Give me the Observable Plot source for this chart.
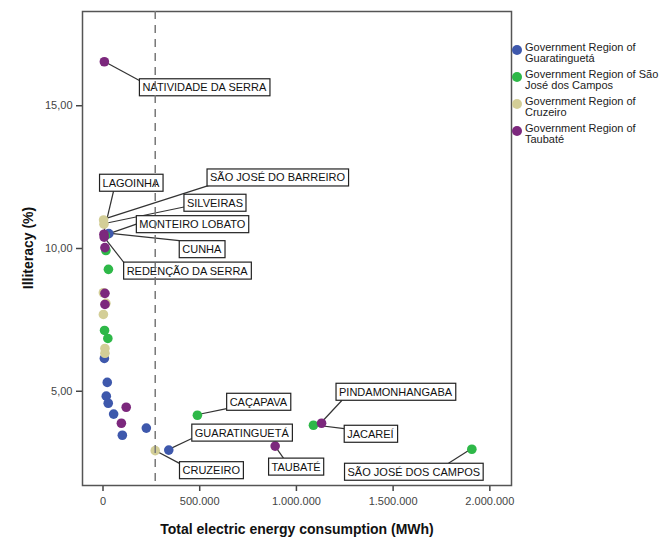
<!DOCTYPE html>
<html>
<head>
<meta charset="utf-8">
<script src="https://cdn.jsdelivr.net/npm/d3@7"></script>
<script src="https://cdn.jsdelivr.net/npm/@observablehq/plot@0.6"></script>
<style>
  body { margin: 0; background: #fff; font-family: "Liberation Sans", Arial, sans-serif; }
  #wrap { position: relative; width: 667px; height: 538px; overflow: hidden; }
  #wrap svg { position: absolute; left: 0; top: 0; }
  .ytitle { position: absolute; left: 28px; top: 248px; transform: translate(-50%, -50%) rotate(-90deg);
            font-weight: bold; font-size: 14px; color: #111; white-space: nowrap; }
  .xtitle { position: absolute; left: 297px; top: 529px; transform: translate(-50%, -50%);
            font-weight: bold; font-size: 14px; color: #111; white-space: nowrap; }
  .legend { position: absolute; left: 511px; top: 42px; font-size: 11px; color: #222; }
  .legend .item { position: relative; padding-left: 14px; line-height: 11px; height: 27px; }
  .legend .sw { position: absolute; left: 1px; top: 3px; width: 10px; height: 10px; border-radius: 50%; }
</style>
</head>
<body>
<div id="wrap"></div>
<script>
// Regions and their colours
const regions = [
  "Government Region of Guaratinguetá",
  "Government Region of São José dos Campos",
  "Government Region of Cruzeiro",
  "Government Region of Taubaté"
];
const regionLegend = [
  ["Government Region of", "Guaratinguetá"],
  ["Government Region of São", "José dos Campos"],
  ["Government Region of", "Cruzeiro"],
  ["Government Region of", "Taubaté"]
];
const regionColors = ["#3e58ac", "#2eb848", "#d3ce97", "#7c287d"];

// Municipalities: name (blank when unlabelled), region index, energy (MWh), illiteracy (%)
const names = [
  "", "", "", "", "", "", "", "CUNHA", "GUARATINGUETÁ",
  "", "", "", "", "MONTEIRO LOBATO", "CAÇAPAVA", "JACAREÍ", "SÃO JOSÉ DOS CAMPOS",
  "SÃO JOSÉ DO BARREIRO", "SILVEIRAS", "", "", "", "", "", "CRUZEIRO",
  "NATIVIDADE DA SERRA", "LAGOINHA", "REDENÇÃO DA SERRA", "", "", "", "", "", "TAUBATÉ", "PINDAMONHANGABA"
];
const regionIndex = [
  0, 0, 0, 0, 0, 0, 0, 0, 0,
  1, 1, 1, 1, 1, 1, 1, 1,
  2, 2, 2, 2, 2, 2, 2, 2,
  3, 3, 3, 3, 3, 3, 3, 3, 3, 3
];
const energy = [
  7000, 22000, 17000, 27000, 55000, 100000, 224000, 30000, 340000,
  15000, 28000, 8000, 25000, 12000, 488000, 1088000, 1907000,
  3000, 5000, 2000, 15000, 2000, 10000, 10000, 270000,
  7000, 5000, 6000, 10000, 10000, 10000, 120000, 95000, 890000, 1130000
];
const illiteracy = [
  6.15, 5.31, 4.83, 4.58, 4.20, 3.46, 3.71, 10.52, 2.94,
  9.93, 9.27, 7.13, 6.85, 10.45, 4.16, 3.81, 2.97,
  11.00, 10.85, 8.45, 8.08, 7.69, 6.50, 6.33, 2.92,
  16.54, 10.50, 10.40, 10.03, 8.43, 8.04, 4.44, 3.88, 3.08, 3.88
];

// Reference line on the energy axis
const energyReference = [270000];

// Tick values
const xTicks = [0, 500000, 1000000, 1500000, 2000000];
const yTicks = [5, 10, 15];

// Callout layout: offset of the label centre from its point (px), and where the leader meets the box
const calloutNames = [
  "NATIVIDADE DA SERRA", "LAGOINHA", "SÃO JOSÉ DO BARREIRO", "SILVEIRAS", "MONTEIRO LOBATO",
  "CUNHA", "REDENÇÃO DA SERRA", "CAÇAPAVA", "GUARATINGUETÁ", "CRUZEIRO", "TAUBATÉ",
  "PINDAMONHANGABA", "JACAREÍ", "SÃO JOSÉ DOS CAMPOS"
];
const calloutDx = [100, 27, 174, 111, 87, 93, 83, 61, 73, 56, 21, 74, 57, -58];
const calloutDy = [26, -51, -42, -21, -11, 16, 34, -13, -17, 20, 21, -31, 9, 23];
const calloutAx = [0, 0.22, 0.02, 0, 0, 0, 0.02, 0, 0, 0, 0.27, 0.05, 0, 0.75];
const calloutAy = [0.1, 1, 0.95, 0.75, 0.5, 0, 0.2, 0.9, 0.85, 0.1, 0, 1, 0.2, 0];

const data = names.map((n, i) => ({
  name: n,
  region: regions[regionIndex[i]],
  energy: energy[i],
  illiteracy: illiteracy[i]
}));
const byName = new Map(data.filter(d => d.name).map(d => [d.name, d]));

const fmtY = v => d3.format(".2f")(v).replace(".", ",");
const fmtX = v => d3.format(",")(v).replace(/,/g, ".");

const labelMarks = calloutNames.map((n, i) =>
  Plot.text([byName.get(n)], {
    x: "energy", y: "illiteracy", text: "name",
    dx: calloutDx[i], dy: calloutDy[i],
    fill: "#111", fontSize: 11, textAnchor: "middle"
  })
);

const chart = Plot.plot({
  width: 667,
  height: 538,
  marginLeft: 82,
  marginRight: 156,
  marginTop: 11,
  marginBottom: 53,
  style: { fontFamily: "Liberation Sans, Arial, sans-serif", background: "transparent" },
  x: { domain: [-106000, 2112000] },
  y: { domain: [1.7, 18.3] },
  color: { domain: regions, range: regionColors },
  marks: [
    Plot.axisX({ ticks: xTicks, tickFormat: fmtX, tickSize: 6, tickPadding: 6, fontSize: 11,
                 stroke: "#444", strokeWidth: 1.5, fill: "#444", label: null }),
    Plot.axisY({ ticks: yTicks, tickFormat: fmtY, tickSize: 6, tickPadding: 4, fontSize: 11,
                 stroke: "#444", strokeWidth: 1.5, fill: "#444", label: null }),
    Plot.frame({ stroke: "#555", strokeWidth: 1.5 }),
    Plot.dot(data, { x: "energy", y: "illiteracy", fill: "region", r: 4.8, stroke: null }),
    ...labelMarks,
    Plot.ruleX(energyReference, { stroke: "#777", strokeWidth: 1.5, strokeDasharray: "8,6" })
  ]
});

const wrap = document.getElementById("wrap");
wrap.appendChild(chart);

// Boxes and leader lines for the callouts
const svgNS = "http://www.w3.org/2000/svg";
const sx = chart.scale("x"), sy = chart.scale("y");
const svgRect = chart.getBoundingClientRect();
const labelGroups = chart.querySelectorAll('g[aria-label="text"]');
const dotGroup = chart.querySelector('g[aria-label="dot"]');
const leaderLayer = document.createElementNS(svgNS, "g");
const boxLayer = document.createElementNS(svgNS, "g");
dotGroup.parentNode.insertBefore(leaderLayer, dotGroup);
labelGroups[0].parentNode.insertBefore(boxLayer, labelGroups[0]);

calloutNames.forEach((n, i) => {
  const t = labelGroups[i].querySelector("text");
  const b = t.getBoundingClientRect();
  const x0 = b.left - svgRect.left - 3, x1 = b.right - svgRect.left + 3;
  const y0 = b.top - svgRect.top - 2.5, y1 = b.bottom - svgRect.top + 2.5;
  const rect = document.createElementNS(svgNS, "rect");
  rect.setAttribute("x", x0); rect.setAttribute("y", y0);
  rect.setAttribute("width", x1 - x0); rect.setAttribute("height", y1 - y0);
  rect.setAttribute("fill", "#fff"); rect.setAttribute("stroke", "#222"); rect.setAttribute("stroke-width", 1.2);
  boxLayer.appendChild(rect);

  const d = byName.get(n);
  const px = sx.apply(d.energy), py = sy.apply(d.illiteracy);
  const line = document.createElementNS(svgNS, "line");
  line.setAttribute("x1", px); line.setAttribute("y1", py);
  line.setAttribute("x2", x0 + calloutAx[i] * (x1 - x0));
  line.setAttribute("y2", y0 + calloutAy[i] * (y1 - y0));
  line.setAttribute("stroke", "#333"); line.setAttribute("stroke-width", 1.2);
  leaderLayer.appendChild(line);
});

// Axis titles
const yt = document.createElement("div"); yt.className = "ytitle"; yt.textContent = "Illiteracy (%)"; wrap.appendChild(yt);
const xt = document.createElement("div"); xt.className = "xtitle"; xt.textContent = "Total electric energy consumption (MWh)"; wrap.appendChild(xt);

// Legend
const legend = document.createElement("div"); legend.className = "legend";
regionLegend.forEach((lines, i) => {
  const item = document.createElement("div"); item.className = "item";
  const sw = document.createElement("span"); sw.className = "sw"; sw.style.background = regionColors[i];
  item.appendChild(sw);
  lines.forEach(l => { const s = document.createElement("div"); s.textContent = l; item.appendChild(s); });
  legend.appendChild(item);
});
wrap.appendChild(legend);
</script>
</body>
</html>
